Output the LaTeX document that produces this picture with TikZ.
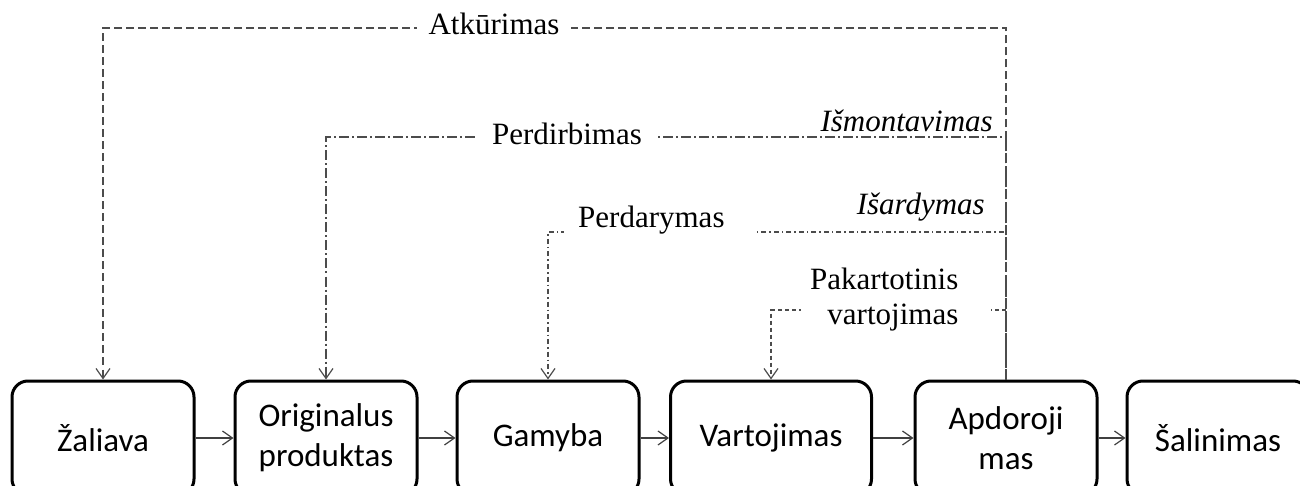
\documentclass[tikz,border=0pt]{standalone}
\usepackage{fontspec}
\setmainfont{Liberation Serif}
\newfontfamily\boxfont{Carlito}
\usetikzlibrary{arrows.meta}
\begin{document}
\begin{tikzpicture}[x=1pt,y=-1pt,
  stage/.style={draw=black, line width=3pt, rounded corners=16pt,
    minimum width=182pt, minimum height=114pt, align=center, inner sep=0pt,
    font=\boxfont\fontsize{33}{40}\selectfont},
  tip/.style={-{Straight Barb[length=10pt,width=14pt,line width=1.2pt]}},
  flow/.style={tip, draw=black!75, line width=1.3pt},
  retpath/.style={tip, draw=black!70, line width=1.2pt},
  lbl/.style={fill=white, inner ysep=3pt, font=\fontsize{31}{35}\selectfont},
  ilbl/.style={inner sep=0pt, font=\itshape\fontsize{31}{35}\selectfont}
]
\useasboundingbox (0,0) rectangle (1300,486);
\clip (0,0) rectangle (1300,486);

% life-cycle stages
\node[stage] (zal) at (103,438) {Žaliava};
\node[stage] (orig) at (326,438) {Originalus\\produktas};
\node[stage] (gam) at (548,438) {Gamyba};
\node[stage, minimum width=201pt] (var) at (771,438) {Vartojimas};
\node[stage] (apd) at (1006,438) {Apdoroji\\mas};
\node[stage] (sal) at (1218,438) {Šalinimas};

% forward flow
\draw[flow] (zal) -- (orig);
\draw[flow] (orig) -- (gam);
\draw[flow] (gam) -- (var);
\draw[flow] (var) -- (apd);
\draw[flow] (apd) -- (sal);

% levels of the return loops
\coordinate (yA) at (0,28);
\coordinate (yB) at (0,137);
\coordinate (yC) at (0,232);
\coordinate (yD) at (0,310);

% return loops from processing
\draw[retpath, dash pattern=on 8pt off 4pt]
  (apd.north) -- (apd.north |- yA) -| (zal.north);
\draw[retpath, dash pattern=on 10pt off 3pt on 2pt off 3pt]
  (apd.north) -- (apd.north |- yB) -| (orig.north);
\draw[retpath, dash pattern=on 5pt off 3pt on 1.5pt off 3pt]
  (apd.north) -- (apd.north |- yC) -| (gam.north);
\draw[retpath, dash pattern=on 4pt off 3pt]
  (apd.north) -- (apd.north |- yD) -| (var.north);

% loop labels
\node[lbl, inner xsep=12pt, anchor=base] (atk) at (494,35) {Atkūrimas};
\node[lbl, inner xsep=16pt, anchor=base] (perdir) at (567,145) {Perdirbimas};
\node[lbl, inner xsep=14pt, anchor=base west] (perdar) at (564,228) {Perdarymas\hspace*{18pt}};
\node[lbl, inner xsep=9pt, align=right, anchor=west] (pak) at (801,300)
  {Pakartotinis\hspace*{24pt}\\vartojimas\hspace*{24pt}};
\node[ilbl, anchor=base east] (ism) at (993,132) {Išmontavimas};
\node[ilbl, anchor=base east] (isa) at (985,215) {Išardymas};
\end{tikzpicture}
\end{document}
